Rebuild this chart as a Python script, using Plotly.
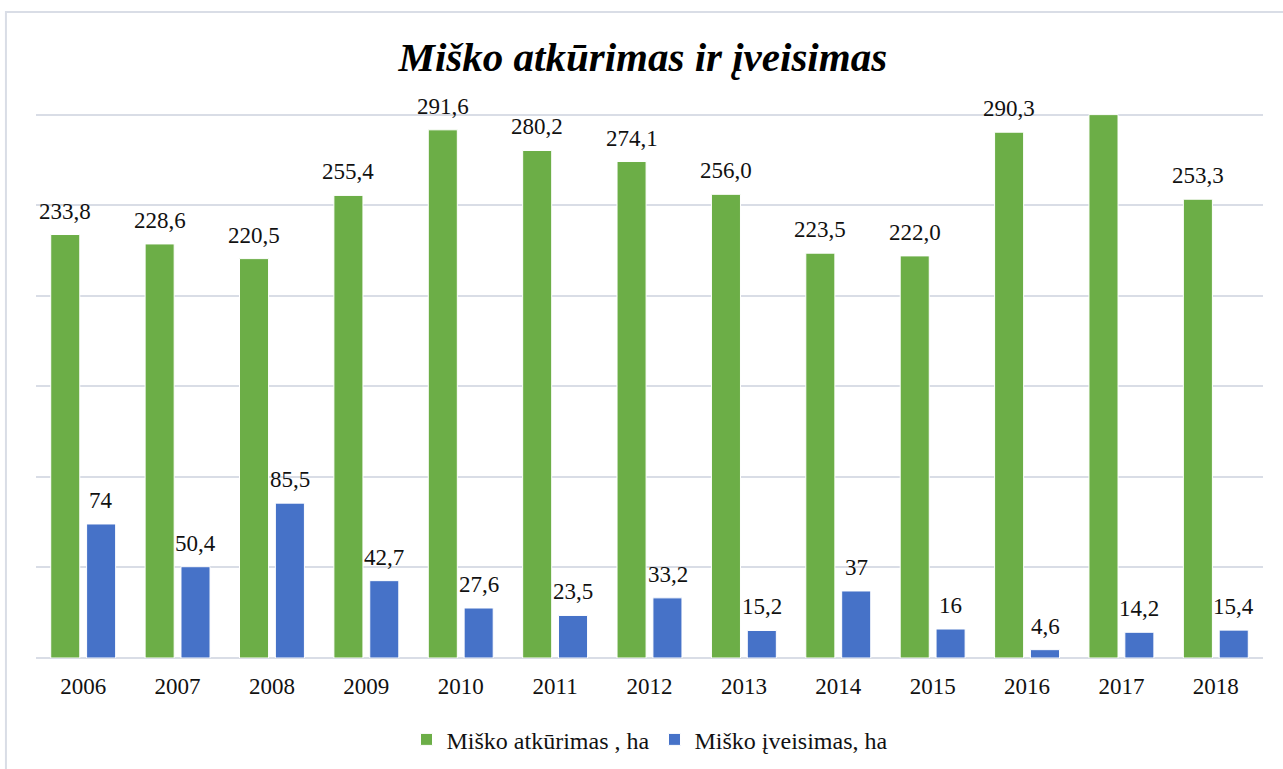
import plotly.graph_objects as go

years = ["2006", "2007", "2008", "2009", "2010", "2011", "2012",
         "2013", "2014", "2015", "2016", "2017", "2018"]
atkurimas = [233.8, 228.6, 220.5, 255.4, 291.6, 280.2, 274.1,
             256.0, 223.5, 222.0, 290.3, 300.0, 253.3]
atkurimas_labels = ["233,8", "228,6", "220,5", "255,4", "291,6", "280,2", "274,1",
                    "256,0", "223,5", "222,0", "290,3", "", "253,3"]
iveisimas = [74, 50.4, 85.5, 42.7, 27.6, 23.5, 33.2, 15.2, 37, 16, 4.6, 14.2, 15.4]
iveisimas_labels = ["74", "50,4", "85,5", "42,7", "27,6", "23,5", "33,2",
                    "15,2", "37", "16", "4,6", "14,2", "15,4"]
y_ticks = [0, 50, 100, 150, 200, 250, 300]

FONT = "Liberation Serif"
TXT = "#111111"
GREEN = "#6cae47"
BLUE = "#4672c8"

fig = go.Figure()
fig.add_trace(go.Bar(
    x=years, y=atkurimas, name="Miško atkūrimas , ha",
    marker=dict(color=GREEN, line=dict(color="#ffffff", width=1)),
))
fig.add_trace(go.Bar(
    x=years, y=iveisimas, name="Miško įveisimas, ha",
    marker=dict(color=BLUE, line=dict(color="#ffffff", width=1)),
))

# data labels above each bar (bars in a group are offset by half a slot)
annotations = []
for series, labels, shift in ((atkurimas, atkurimas_labels, -18),
                              (iveisimas, iveisimas_labels, 18)):
    for idx, (val, lab) in enumerate(zip(series, labels)):
        if not lab:
            continue
        annotations.append(dict(
            x=idx, y=val, xref="x", yref="y", text=lab, showarrow=False,
            xanchor="center", yanchor="bottom", xshift=shift, yshift=9,
            font=dict(family=FONT, size=23, color=TXT),
        ))

fig.update_layout(
    width=1283, height=769,
    margin=dict(l=36, r=20, t=111, b=111, autoexpand=False),
    paper_bgcolor="#ffffff", plot_bgcolor="#ffffff",
    barmode="group", bargap=0.24, bargroupgap=0.19,
    title=dict(text="<b><i>Miško atkūrimas ir įveisimas</i></b>",
               x=0.501, xanchor="center", y=0.926, yanchor="middle",
               font=dict(family=FONT, size=41, color="#000000")),
    font=dict(family=FONT, size=23, color=TXT),
    xaxis=dict(type="category", categoryorder="array", categoryarray=years,
               range=[-0.5, len(years) - 0.5], autorange=False,
               showline=False, ticks="", ticklabelstandoff=12,
               tickfont=dict(family=FONT, size=23, color=TXT)),
    yaxis=dict(range=[0, 302], autorange=False, tickvals=y_ticks, showticklabels=False,
               showgrid=True, gridcolor="#d9dde6", gridwidth=2,
               zeroline=True, zerolinecolor="#d9dde6", zerolinewidth=2),
    legend=dict(orientation="h", x=0.5, xanchor="center",
                yref="container", y=0.038, yanchor="middle",
                font=dict(family=FONT, size=24, color=TXT),
                itemwidth=30, tracegroupgap=0),
    showlegend=True,
    annotations=annotations,
    shapes=[dict(type="rect", xref="paper", yref="paper",
                 x0=-0.0245, x1=1.2, y0=-0.6, y1=1.181,
                 line=dict(color="#d9dde6", width=2), fillcolor="rgba(0,0,0,0)",
                 layer="below")],
)

fig.write_html("out.html", config={"displayModeBar": False},
               post_script="document.body.style.margin='0';")
